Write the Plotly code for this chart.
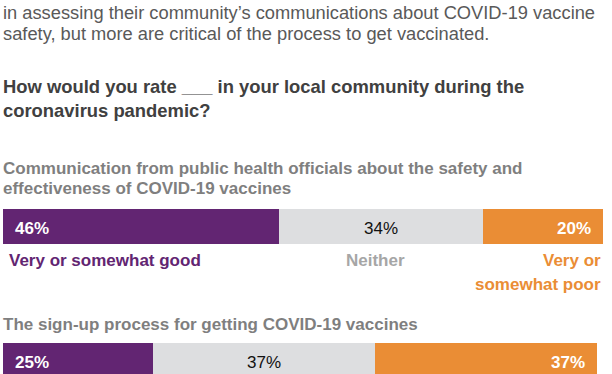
import plotly.graph_objects as go

items = ["Communication from public health officials about the safety and effectiveness of COVID-19 vaccines",
         "The sign-up process for getting COVID-19 vaccines"]
good = [46, 25]
neither = [34, 37]
poor = [20, 37]
series_names = ["Very or somewhat good", "Neither", "Very or somewhat poor"]

PURPLE = "#622572"
GRAY = "#DDDEE0"
ORANGE = "#EA8D35"
FONT = "Liberation Sans, Arial, sans-serif"

W, H = 612, 374
fig = go.Figure()
for name, vals, col in zip(series_names, [good, neither, poor], [PURPLE, GRAY, ORANGE]):
    fig.add_trace(go.Bar(y=items, x=vals, orientation="h", name=name,
                         marker=dict(color=col, line=dict(width=0)), width=0.26,
                         hoverinfo="skip"))

def py(px):
    return 1 - px / H

ann = []
def text(t, x, ypx, size, color, bold=False, anchor="left"):
    ann.append(dict(text=f"<b>{t}</b>" if bold else t, x=x, y=py(ypx), xref="paper", yref="paper",
                    xanchor=anchor, yanchor="middle", showarrow=False,
                    font=dict(family=FONT, size=size, color=color)))

# header text
text("in assessing their community’s communications about COVID-19 vaccine", -0.003, 12, 18.3, "#595959")
text("safety, but more are critical of the process to get vaccinated.", -0.003, 33, 18.3, "#595959")
text("How would you rate ___ in your local community during the", -0.003, 86, 18.4, "#404040", bold=True)
text("coronavirus pandemic?", -0.003, 110, 18.4, "#404040", bold=True)
text("Communication from public health officials about the safety and", -0.003, 168, 17, "#7F7F7F", bold=True)
text("effectiveness of COVID-19 vaccines", -0.003, 188, 17, "#7F7F7F", bold=True)
text("The sign-up process for getting COVID-19 vaccines", -0.003, 324, 17, "#7F7F7F", bold=True)

# category labels under first bar
text("Very or somewhat good", 0.006, 260, 17, PURPLE, bold=True)
text("Neither", 0.62, 260, 17, "#A6A6A6", bold=True, anchor="center")
text("Very or", 1.0, 260, 17, ORANGE, bold=True, anchor="right")
text("somewhat poor", 1.0, 284, 17, ORANGE, bold=True, anchor="right")

# value labels via data coordinates
for i, item in enumerate(items):
    g, n, p = good[i], neither[i], poor[i]
    ann.append(dict(text=f"<b>{g}%</b>", x=0, y=item, xref="x", yref="y", xanchor="left",
                    yanchor="middle", xshift=10, yshift=-2, showarrow=False,
                    font=dict(family=FONT, size=17, color="white")))
    ann.append(dict(text=f"{n}%", x=g + n / 2, y=item, xref="x", yref="y", xanchor="center",
                    yanchor="middle", yshift=-2, showarrow=False,
                    font=dict(family=FONT, size=17, color="#111111")))
    ann.append(dict(text=f"<b>{p}%</b>", x=g + n + p, y=item, xref="x", yref="y", xanchor="right",
                    yanchor="middle", xshift=-10, yshift=-2, showarrow=False,
                    font=dict(family=FONT, size=17, color="white")))

fig.update_layout(
    width=W, height=H, barmode="stack", bargap=0,
    margin=dict(l=3, r=9, t=0, b=0),
    paper_bgcolor="white", plot_bgcolor="white",
    showlegend=False,
    xaxis=dict(range=[0, 100], visible=False, fixedrange=True),
    yaxis=dict(type="category", categoryorder="array", categoryarray=items,
               range=[1.1007, -1.690], visible=False, fixedrange=True),
    annotations=ann,
)
fig.write_html("out.html", config={"displayModeBar": False},
               post_script="document.body.style.margin='0px';")
